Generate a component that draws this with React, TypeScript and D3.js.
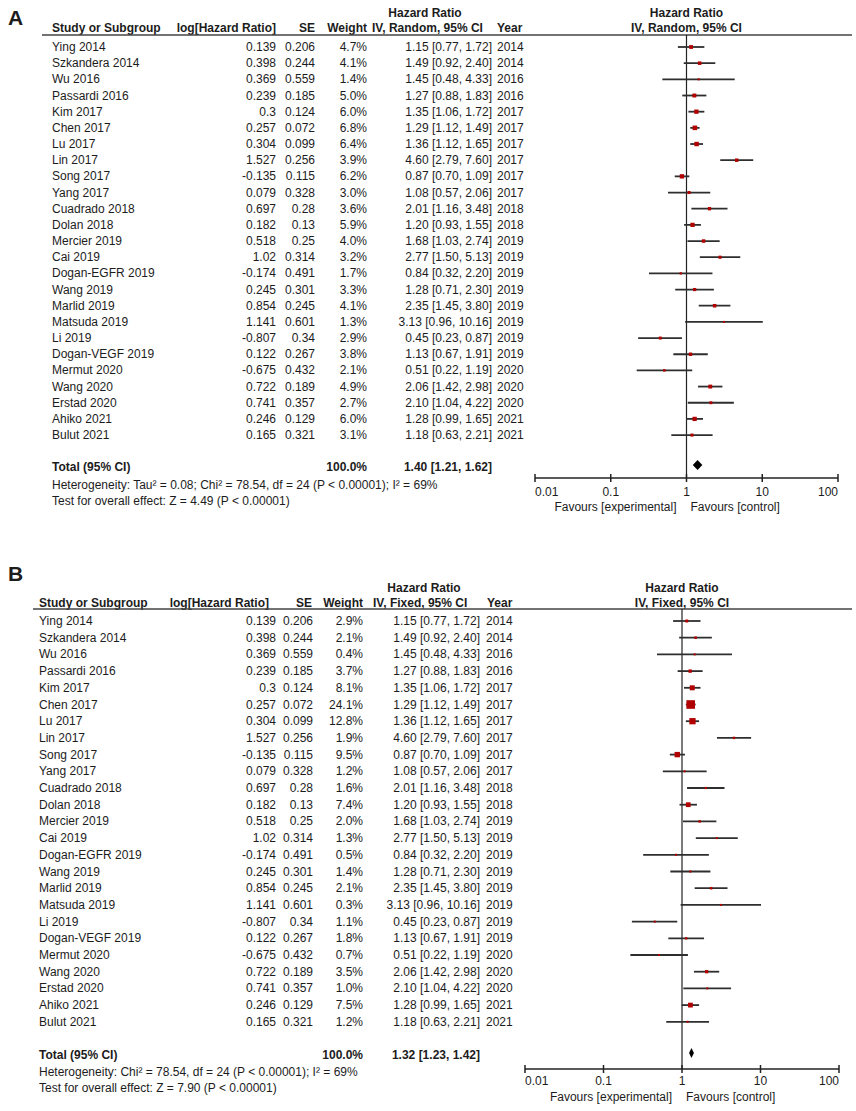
import React from 'react'
import * as d3 from 'd3'

const studyNames = [
    'Ying 2014', 'Szkandera 2014', 'Wu 2016', 'Passardi 2016', 'Kim 2017', 'Chen 2017', 'Lu 2017',
    'Lin 2017', 'Song 2017', 'Yang 2017', 'Cuadrado 2018', 'Dolan 2018', 'Mercier 2019', 'Cai 2019',
    'Dogan-EGFR 2019', 'Wang 2019', 'Marlid 2019', 'Matsuda 2019', 'Li 2019', 'Dogan-VEGF 2019',
    'Mermut 2020', 'Wang 2020', 'Erstad 2020', 'Ahiko 2021', 'Bulut 2021',
]
const logHazard = [
    0.139, 0.398, 0.369, 0.239, 0.3, 0.257, 0.304, 1.527, -0.135, 0.079, 0.697, 0.182, 0.518,
    1.02, -0.174, 0.245, 0.854, 1.141, -0.807, 0.122, -0.675, 0.722, 0.741, 0.246, 0.165,
]
const stdErr = [
    0.206, 0.244, 0.559, 0.185, 0.124, 0.072, 0.099, 0.256, 0.115, 0.328, 0.28, 0.13, 0.25,
    0.314, 0.491, 0.301, 0.245, 0.601, 0.34, 0.267, 0.432, 0.189, 0.357, 0.129, 0.321,
]
const hazardRatio = [
    1.15, 1.49, 1.45, 1.27, 1.35, 1.29, 1.36, 4.60, 0.87, 1.08, 2.01, 1.20, 1.68,
    2.77, 0.84, 1.28, 2.35, 3.13, 0.45, 1.13, 0.51, 2.06, 2.10, 1.28, 1.18,
]
const ciLower = [
    0.77, 0.92, 0.48, 0.88, 1.06, 1.12, 1.12, 2.79, 0.70, 0.57, 1.16, 0.93, 1.03,
    1.50, 0.32, 0.71, 1.45, 0.96, 0.23, 0.67, 0.22, 1.42, 1.04, 0.99, 0.63,
]
const ciUpper = [
    1.72, 2.40, 4.33, 1.83, 1.72, 1.49, 1.65, 7.60, 1.09, 2.06, 3.48, 1.55, 2.74,
    5.13, 2.20, 2.30, 3.80, 10.16, 0.87, 1.91, 1.19, 2.98, 4.22, 1.65, 2.21,
]
const studyYear = [
    2014, 2014, 2016, 2016, 2017, 2017, 2017, 2017, 2017, 2017, 2018, 2018, 2019,
    2019, 2019, 2019, 2019, 2019, 2019, 2019, 2020, 2020, 2020, 2021, 2021,
]
const weightRandom = [
    4.7, 4.1, 1.4, 5.0, 6.0, 6.8, 6.4, 3.9, 6.2, 3.0, 3.6, 5.9, 4.0,
    3.2, 1.7, 3.3, 4.1, 1.3, 2.9, 3.8, 2.1, 4.9, 2.7, 6.0, 3.1,
]
const weightFixed = [
    2.9, 2.1, 0.4, 3.7, 8.1, 24.1, 12.8, 1.9, 9.5, 1.2, 1.6, 7.4, 2.0,
    1.3, 0.5, 1.4, 2.1, 0.3, 1.1, 1.8, 0.7, 3.5, 1.0, 7.5, 1.2,
]
const axisTicks = [0.01, 0.1, 1, 10, 100]
const totalRandom = [1.40, 1.21, 1.62]
const totalFixed = [1.32, 1.23, 1.42]

type Layout = {
    tag: string, model: string, tagY: number,
    hdr1Y: number, hdr2Y: number, ruleY: number, ruleX: number,
    row0: number, rowStep: number, totalY: number, hetY: number, testY: number,
    nameX: number, logX: number, seX: number, wX: number, ciX: number, yearX: number,
    logHdrX: number, seHdrX: number, wHdrX: number, ciHdrX: number, yearHdrX: number, hrHdrX: number,
    x0: number, x1: number, axisY: number, tickY: number, favY: number,
    weights: number[], total: number[], het: string, test: string,
}

const font = '"Liberation Sans", Arial, sans-serif'
const ink = '#1c1c1c'

const ForestPanel = ({ p }: { p: Layout }) => {
    const x = d3.scaleLog().domain([0.01, 100]).range([p.x0, p.x1])
    const y = (i: number) => p.row0 + i * p.rowStep
    const box = (w: number) => Math.max(2, 1.75 * Math.sqrt(w))
    const plotMid = x(1)
    const fmt2 = d3.format('.2f')
    const ciText = (h: number, l: number, u: number) => `${fmt2(h)} [${fmt2(l)}, ${fmt2(u)}]`
    const [th, tl, tu] = p.total

    const txt = { fontFamily: font, fontSize: 12, fill: ink, dominantBaseline: 'central' as const }
    const bold = { ...txt, fontWeight: 700 }

    return (
        <g>
            <text x={8} y={p.tagY} style={{ ...bold, fontSize: 21 }}>{p.tag}</text>

            {/* headers */}
            <text x={p.hrHdrX} y={p.hdr1Y} textAnchor="middle" style={bold}>Hazard Ratio</text>
            <text x={plotMid} y={p.hdr1Y} textAnchor="middle" style={bold}>Hazard Ratio</text>
            <text x={p.nameX} y={p.hdr2Y} style={bold}>Study or Subgroup</text>
            <text x={p.logHdrX} y={p.hdr2Y} textAnchor="end" style={bold}>log[Hazard Ratio]</text>
            <text x={p.seHdrX} y={p.hdr2Y} textAnchor="end" style={bold}>SE</text>
            <text x={p.wHdrX} y={p.hdr2Y} textAnchor="end" style={bold}>Weight</text>
            <text x={p.ciHdrX} y={p.hdr2Y} style={bold}>{`IV, ${p.model}, 95% CI`}</text>
            <text x={p.yearHdrX} y={p.hdr2Y} style={bold}>Year</text>
            <text x={plotMid} y={p.hdr2Y} textAnchor="middle" style={bold}>{`IV, ${p.model}, 95% CI`}</text>
            <line x1={p.ruleX} x2={852} y1={p.ruleY} y2={p.ruleY} stroke="#444" strokeWidth={1.5} />

            {/* rows */}
            {studyNames.map((name, i) => (
                <g key={name}>
                    <text x={p.nameX} y={y(i)} style={txt}>{name}</text>
                    <text x={p.logX} y={y(i)} textAnchor="end" style={txt}>{String(logHazard[i])}</text>
                    <text x={p.seX} y={y(i)} textAnchor="end" style={txt}>{String(stdErr[i])}</text>
                    <text x={p.wX} y={y(i)} textAnchor="end" style={txt}>{p.weights[i].toFixed(1) + '%'}</text>
                    <text x={p.ciX} y={y(i)} textAnchor="end" style={txt}>{ciText(hazardRatio[i], ciLower[i], ciUpper[i])}</text>
                    <text x={p.yearX} y={y(i)} style={txt}>{studyYear[i]}</text>
                </g>
            ))}

            {/* null line */}
            <line x1={plotMid} x2={plotMid} y1={p.ruleY} y2={p.axisY} stroke="#222" strokeWidth={1.2} />

            {studyNames.map((name, i) => {
                const s = box(p.weights[i])
                return (
                    <g key={'m' + name}>
                        <line x1={x(ciLower[i])} x2={x(ciUpper[i])} y1={y(i)} y2={y(i)} stroke="#2e2e2e" strokeWidth={1.8} />
                        <rect x={x(hazardRatio[i]) - s / 2} y={y(i) - s / 2} width={s} height={s} fill="#b10000" />
                    </g>
                )
            })}

            {/* totals */}
            <text x={p.nameX} y={p.totalY} style={bold}>Total (95% CI)</text>
            <text x={p.wX} y={p.totalY} textAnchor="end" style={bold}>100.0%</text>
            <text x={p.ciX} y={p.totalY} textAnchor="end" style={bold}>{ciText(th, tl, tu)}</text>
            <text x={p.nameX} y={p.hetY} style={txt}>{p.het}</text>
            <text x={p.nameX} y={p.testY} style={txt}>{p.test}</text>
            <polygon
                points={[[x(tl), p.totalY - 2], [x(th), p.totalY - 7], [x(tu), p.totalY - 2], [x(th), p.totalY + 3]].map(d => d.join(',')).join(' ')}
                fill="#000"
            />

            {/* axis */}
            <line x1={p.x0} x2={p.x1} y1={p.axisY} y2={p.axisY} stroke="#222" strokeWidth={1.5} />
            {axisTicks.map((t, k) => (
                <g key={t}>
                    <line x1={x(t)} x2={x(t)} y1={p.axisY - 4} y2={p.axisY + 4} stroke="#222" strokeWidth={1.5} />
                    <text
                        x={x(t)} y={p.tickY}
                        textAnchor={k === 0 ? 'start' : k === axisTicks.length - 1 ? 'end' : 'middle'}
                        style={txt}
                    >{String(t)}</text>
                </g>
            ))}
            <text x={plotMid - 10} y={p.favY} textAnchor="end" style={txt}>Favours [experimental]</text>
            <text x={plotMid + 4} y={p.favY} style={txt}>Favours [control]</text>
        </g>
    )
}

const panelA: Layout = {
    tag: 'A', model: 'Random', tagY: 17,
    hdr1Y: 13, hdr2Y: 28, ruleY: 35, ruleX: 42,
    row0: 47, rowStep: 16.17, totalY: 467, hetY: 485, testY: 501,
    nameX: 52, logX: 276, seX: 315, wX: 367, ciX: 492, yearX: 497,
    logHdrX: 276, seHdrX: 315, wHdrX: 367, ciHdrX: 372, yearHdrX: 497, hrHdrX: 425,
    x0: 535, x1: 838, axisY: 478, tickY: 492, favY: 507,
    weights: weightRandom, total: totalRandom,
    het: 'Heterogeneity: Tau² = 0.08; Chi² = 78.54, df = 24 (P < 0.00001); I² = 69%',
    test: 'Test for overall effect: Z = 4.49 (P < 0.00001)',
}

const panelB: Layout = {
    tag: 'B', model: 'Fixed', tagY: 573,
    hdr1Y: 588, hdr2Y: 603, ruleY: 609, ruleX: 33,
    row0: 621, rowStep: 16.7, totalY: 1055, hetY: 1072, testY: 1088,
    nameX: 39, logX: 276, seX: 313, wX: 363, ciX: 480, yearX: 486,
    logHdrX: 269, seHdrX: 312, wHdrX: 363, ciHdrX: 373, yearHdrX: 487, hrHdrX: 424,
    x0: 525, x1: 839, axisY: 1069, tickY: 1081, favY: 1097,
    weights: weightFixed, total: totalFixed,
    het: 'Heterogeneity: Chi² = 78.54, df = 24 (P < 0.00001); I² = 69%',
    test: 'Test for overall effect: Z = 7.90 (P < 0.00001)',
}

export default function App() {
    return (
        <svg width={856} height={1111} style={{ position: 'absolute', left: 0, top: 0, background: '#fff' }}>
            <rect width={856} height={1111} fill="#fff" />
            <ForestPanel p={panelA} />
            <ForestPanel p={panelB} />
        </svg>
    )
}
